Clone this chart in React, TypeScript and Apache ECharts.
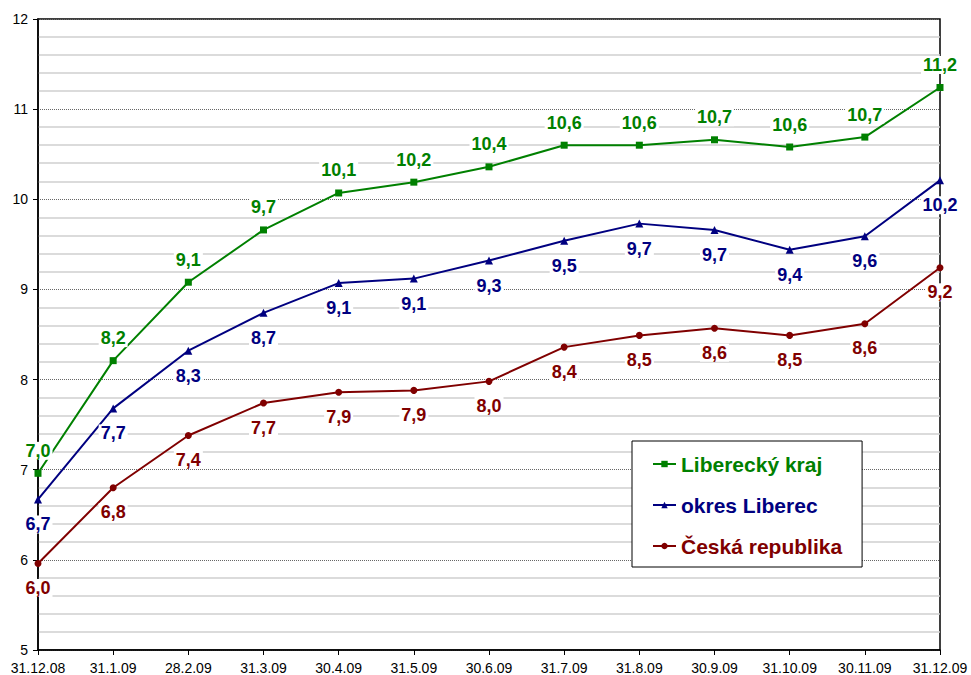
import React, { useEffect, useRef } from "react";
import * as echarts from "echarts";

const categories = ["31.12.08", "31.1.09", "28.2.09", "31.3.09", "30.4.09", "31.5.09", "30.6.09", "31.7.09", "31.8.09", "30.9.09", "31.10.09", "30.11.09", "31.12.09"];
const liberecky = [6.96, 8.21, 9.08, 9.66, 10.07, 10.19, 10.36, 10.6, 10.6, 10.66, 10.58, 10.69, 11.24];
const okres = [6.67, 7.68, 8.32, 8.74, 9.07, 9.12, 9.32, 9.54, 9.73, 9.66, 9.44, 9.59, 10.21];
const cr = [5.96, 6.8, 7.38, 7.74, 7.86, 7.88, 7.98, 8.36, 8.49, 8.57, 8.49, 8.62, 9.24];
const seriesNames = ["Liberecký kraj", "okres Liberec", "Česká republika"];
const colors = ["#008000", "#000080", "#800000"];

const FONT = "'Liberation Sans', Arial, sans-serif";
const fmt = (p: any) => Number(p.value).toFixed(1).replace(".", ",");

export default function App() {
  const ref = useRef<HTMLDivElement>(null);
  useEffect(() => {
    const chart = echarts.init(ref.current!, null, { renderer: "svg" });
    const labelBase = {
      show: true,
      formatter: fmt,
      fontFamily: FONT,
      fontWeight: "bold" as const,
      fontSize: 18,
      backgroundColor: "#fff",
      padding: [0, 2, 0, 2],
    };
    const mk = (i: number, data: number[], symbol: string, size: number, pos: string, dist: number) => ({
      name: seriesNames[i],
      type: "line",
      data,
      symbol,
      symbolSize: size,
      lineStyle: { color: colors[i], width: 2 },
      itemStyle: { color: colors[i] },
      label: { ...labelBase, color: colors[i], position: pos, distance: dist },
      z: 3 - i,
    });
    chart.setOption({
      animation: false,
      backgroundColor: "#fff",
      textStyle: { fontFamily: FONT },
      grid: { left: 38, right: 31, top: 19, bottom: 24, show: true, borderColor: "#000", borderWidth: 1.5, backgroundColor: "transparent" },
      legend: {
        orient: "vertical",
        left: 632,
        top: 441,
        padding: [11, 20, 9, 20],
        itemGap: 17,
        itemWidth: 23,
        itemHeight: 8,
        backgroundColor: "#fff",
        borderColor: "#000",
        borderWidth: 1,
        textStyle: { fontSize: 21, fontWeight: "bold", lineHeight: 24, fontFamily: FONT },
        data: seriesNames.map((n, i) => ({ name: n, textStyle: { color: colors[i] } })),
      },
      xAxis: {
        type: "category",
        data: categories,
        boundaryGap: false,
        axisLine: { lineStyle: { color: "#000", width: 1.5 } },
        axisTick: { show: true, length: 5, lineStyle: { color: "#000" } },
        axisLabel: { color: "#000", fontSize: 14, margin: 11, interval: 0, fontFamily: FONT },
        splitLine: { show: false },
      },
      yAxis: {
        type: "value",
        min: 5,
        max: 12,
        interval: 1,
        axisLine: { show: true, lineStyle: { color: "#000", width: 1.5 } },
        axisTick: { show: true, length: 5, lineStyle: { color: "#000" } },
        axisLabel: { color: "#000", fontSize: 14, margin: 10, fontFamily: FONT },
        splitLine: { show: true, lineStyle: { color: "#666", type: "dotted", width: 1 } },
        minorTick: { show: false, splitNumber: 5 },
        minorSplitLine: { show: true, lineStyle: { color: "#cfcfcf", width: 1.5 } },
      },
      series: [
        mk(0, liberecky, "rect", 7, "top", 10),
        mk(1, okres, "triangle", 8, "bottom", 12),
        mk(2, cr, "circle", 7, "bottom", 12),
      ],
    });
    return () => chart.dispose();
  }, []);
  return <div ref={ref} style={{ position: "fixed", left: 0, top: 0, width: 971, height: 675 }} />;
}
